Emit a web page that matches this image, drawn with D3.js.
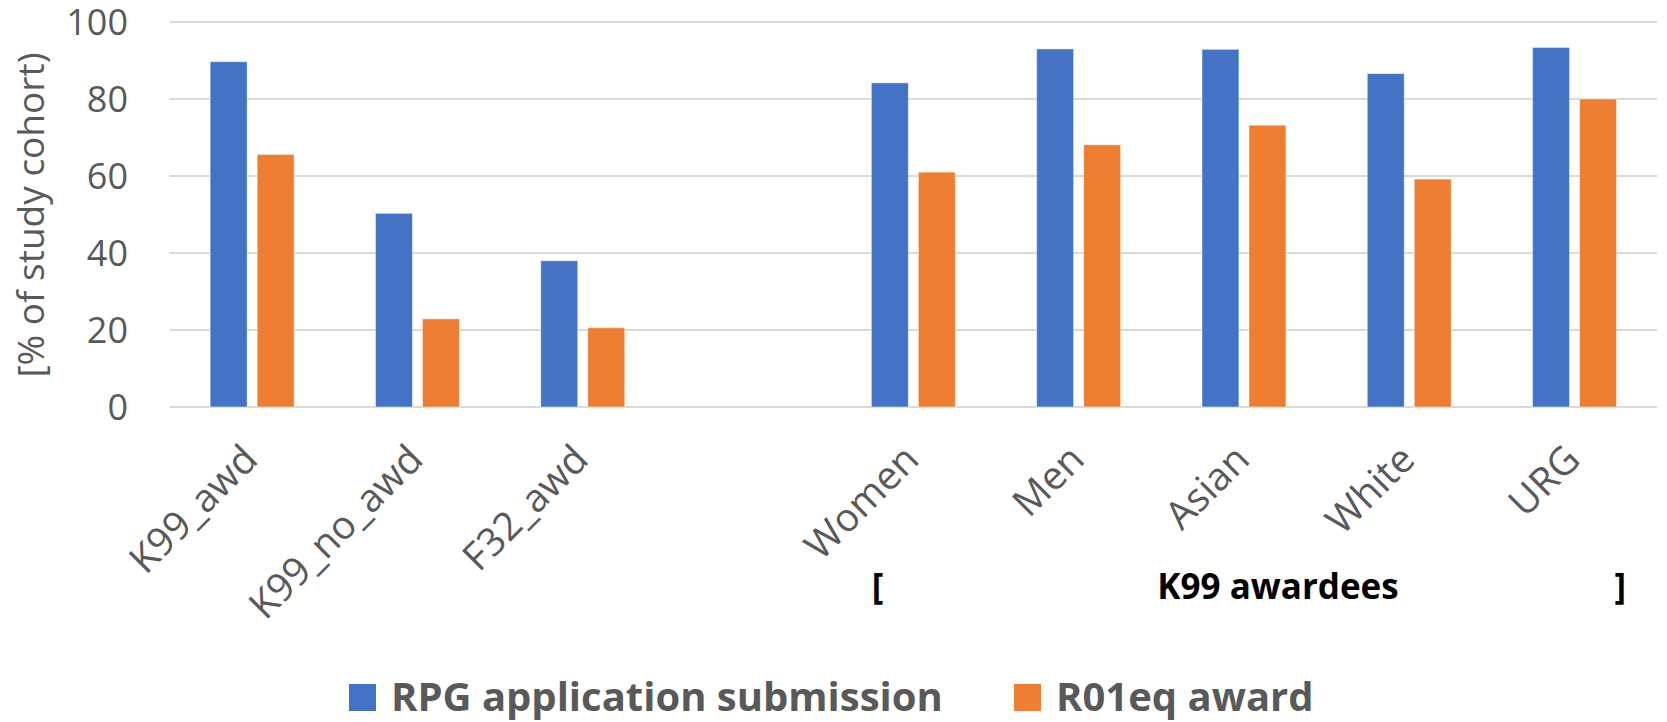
<!DOCTYPE html>
<html>
<head>
<meta charset="utf-8">
<script src="https://cdn.jsdelivr.net/npm/d3@7"></script>
<style>
  html, body { margin: 0; padding: 0; background: #fff; }
  svg { display: block; }
  text { font-family: "Open Sans", "Liberation Sans", sans-serif; }
</style>
</head>
<body>
<svg id="chart" width="1667" height="722"></svg>
<script>
// ---- data ----
const categories = ["K99_awd", "K99_no_awd", "F32_awd", "", "Women", "Men", "Asian", "White", "URG"];
const seriesNames = ["RPG application submission", "R01eq award"];
const rpgSubmission = [89.7, 50.3, 38.0, null, 84.2, 93.0, 92.9, 86.6, 93.4];
const r01eqAward    = [65.6, 22.9, 20.6, null, 61.0, 68.1, 73.2, 59.2, 80.0];
const yTicks = [0, 20, 40, 60, 80, 100];
const yTitle = "[% of study cohort)";
const groupLabel = "K99 awardees";
const groupStart = "Women", groupEnd = "URG";

// ---- layout / style ----
const colors = ["#4472C4", "#ED7D31"];
const gray = "#595959";
const svg = d3.select("#chart");

const x = d3.scaleBand().domain(categories).range([169.5, 1657.2]).paddingInner(0).paddingOuter(0);
const y = d3.scaleLinear().domain([0, 100]).range([407, 22]);
const xs = d3.scaleBand().domain(seriesNames).range([-42, 42]).paddingInner(0.2128).paddingOuter(0);

// gridlines
svg.append("g").selectAll("line").data(yTicks).join("line")
  .attr("x1", x.range()[0]).attr("x2", x.range()[1])
  .attr("y1", d => y(d)).attr("y2", d => y(d))
  .attr("stroke", "#D9D9D9").attr("stroke-width", 2);

// y axis labels
const yAxis = d3.axisLeft(y).tickValues(yTicks).tickSize(0).tickPadding(0);
const gy = svg.append("g").attr("transform", "translate(128,0)").call(yAxis);
gy.select(".domain").remove();
gy.selectAll("text")
  .attr("font-family", "Open Sans").attr("font-size", 36).attr("fill", gray)
  .attr("x", 0).attr("dy", "0.36em").attr("text-anchor", "end");

// y title
svg.append("text")
  .attr("transform", "translate(44,215) rotate(-90)")
  .attr("text-anchor", "middle")
  .attr("font-size", 37).attr("fill", gray)
  .text(yTitle);

// bars
const seriesData = [rpgSubmission, r01eqAward];
seriesData.forEach((vals, si) => {
  svg.append("g").selectAll("rect")
    .data(categories.map((c, i) => ({ c, v: vals[i] })).filter(d => d.v != null))
    .join("rect")
    .attr("x", d => x(d.c) + x.bandwidth() / 2 + xs(seriesNames[si]))
    .attr("width", xs.bandwidth())
    .attr("y", d => y(d.v))
    .attr("height", d => y(0) - y(d.v))
    .attr("fill", colors[si])
    .attr("stroke", "rgba(255,255,255,0.5)").attr("stroke-width", 1);
});

// x axis labels
const xAxis = d3.axisBottom(x).tickSize(0).tickPadding(0).tickFormat(d => d);
const gx = svg.append("g").call(xAxis);
gx.select(".domain").remove();
gx.selectAll(".tick").attr("transform", d => `translate(${x(d) + x.bandwidth() / 2 - 2},452)`);
gx.selectAll("text")
  .attr("font-family", "Open Sans").attr("font-size", 39).attr("fill", gray)
  .attr("x", 0).attr("y", 0).attr("dy", "0.35em")
  .attr("text-anchor", "end")
  .attr("transform", "rotate(-45)");

// group bracket label
const gStartX = x(groupStart), gEndX = x(groupEnd) + x.bandwidth();
const grp = svg.append("g").attr("font-weight", "bold").attr("font-size", 35).attr("fill", "#000");
grp.append("text").attr("x", gStartX + 41).attr("y", 599).attr("text-anchor", "start").text("[");
grp.append("text").attr("x", 1278).attr("y", 599).attr("text-anchor", "middle").text(groupLabel);
grp.append("text").attr("x", gEndX - 31).attr("y", 599).attr("text-anchor", "end").text("]");

// legend
const legendX = [349, 1014];
const lg = svg.append("g");
seriesNames.forEach((name, i) => {
  lg.append("rect").attr("x", legendX[i]).attr("y", 684).attr("width", 27).attr("height", 27).attr("fill", colors[i]);
  lg.append("text").attr("x", legendX[i] + 42).attr("y", 711)
    .attr("font-weight", "bold").attr("font-size", 40).attr("fill", gray).text(name);
});
</script>
</body>
</html>
